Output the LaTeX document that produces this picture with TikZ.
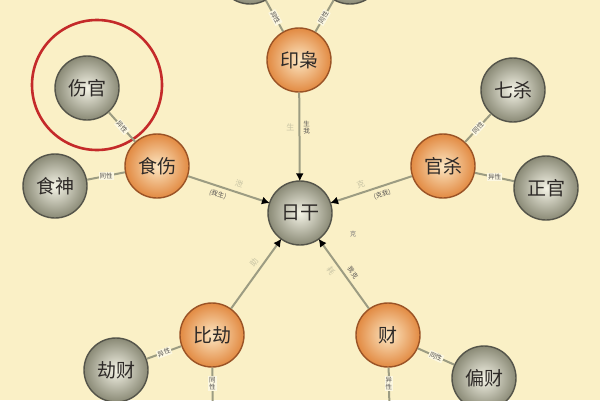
\documentclass[tikz,border=0pt]{standalone}
\usepackage{fontspec}
\newfontfamily\cjk{Noto Sans CJK SC}
\usetikzlibrary{arrows.meta}
\definecolor{bg}{HTML}{FAF0C6}
\definecolor{oin}{HTML}{FCE6C2}
\definecolor{oout}{HTML}{E28A42}
\definecolor{orim}{HTML}{9A5326}
\definecolor{gin}{HTML}{F4F3E6}
\definecolor{gout}{HTML}{8A8A76}
\definecolor{grim}{HTML}{54544A}
\definecolor{conn}{HTML}{9C9C82}
\definecolor{ink}{HTML}{2E2A28}
\definecolor{faint}{HTML}{C8C4A4}
\definecolor{ring}{HTML}{C42A2A}
\begin{document}
\begin{tikzpicture}[x=1pt,y=-1pt,
  ballbase/.style={circle, minimum size=64pt, inner sep=0pt, line width=1.4pt,
    font=\cjk\fontsize{19}{19}\selectfont, text=ink},
  oball/.style={ballbase, draw=orim, inner color=oin, outer color=oout},
  gball/.style={ballbase, draw=grim, inner color=gin, outer color=gout},
  link/.style={draw=conn, line width=2pt},
  arr/.style={link, -{Latex[length=8pt,width=8pt,black]}, shorten >=-1pt},
  lbl/.style={font=\cjk\fontsize{6.5}{7}\selectfont, text=ink!80, inner sep=1pt, fill=bg!50!white},
  flbl/.style={font=\cjk\fontsize{8}{8}\selectfont, text=faint, inner sep=1pt}]
\clip (0,0) rectangle (600,400);
\fill[bg] (0,0) rectangle (600,400);

% nodes
\node[gball] (rg) at (300,213) {日干};
\node[oball] (yx) at (299,60) {印枭};
\node[oball] (ss) at (157,166) {食伤};
\node[oball] (gs) at (443,166) {官杀};
\node[oball] (bj) at (212,335) {比劫};
\node[oball] (cai) at (388,335) {财};
\node[gball] (sg) at (87,88) {伤官};
\node[gball] (shs) at (55,186) {食神};
\node[gball] (qs) at (513,90) {七杀};
\node[gball] (zg) at (546,188) {正官};
\node[gball] (jc) at (116,370) {劫财};
\node[gball] (pc) at (484,378) {偏财};
\node[gball] (py) at (250,-28) {};
\node[gball] (zy) at (350,-28) {};
\node[gball] (bjn) at (213,436) {};
\node[gball] (zc) at (390,436) {};

% highlight ring
\node[draw=ring, line width=2.6pt, circle, minimum size=130pt, inner sep=0pt] (hl) at (97,85) {};

% outer links
\draw[link] (sg) -- node[lbl, sloped, pos=0.5] {异性} (ss);
\draw[link] (shs) -- node[lbl, pos=0.5] {同性} (ss);
\draw[link] (qs) -- node[lbl, sloped, pos=0.5] {同性} (gs);
\draw[link] (zg) -- node[lbl, pos=0.5] {异性} (gs);
\draw[link] (jc) -- node[lbl, sloped, pos=0.5] {异性} (bj);
\draw[link] (bj) -- node[lbl, align=center, pos=0.45] {同\\性} (bjn);
\draw[link] (pc) -- node[lbl, sloped, pos=0.5] {同性} (cai);
\draw[link] (cai) -- node[lbl, align=center, pos=0.45] {异\\性} (zc);
\draw[link] (yx) -- node[lbl, sloped, pos=0.45] {异性} (py);
\draw[link] (yx) -- node[lbl, sloped, pos=0.45] {同性} (zy);

% arrows to day master
\draw[arr] (yx) -- node[flbl, pos=0.4, left=3pt] {生}
  node[lbl, pos=0.4, right=2pt, align=center, fill=none] {生\\我} (rg);
\draw[arr] (ss) -- node[flbl, sloped, pos=0.6, above=3pt] {泄}
  node[lbl, sloped, pos=0.4, below=3pt, fill=none] {(我生)} (rg);
\draw[arr] (gs) -- node[flbl, sloped, pos=0.6, above=3pt] {克}
  node[lbl, sloped, pos=0.4, below=3pt, fill=none] {(克我)} (rg);
\draw[arr] (bj) -- node[flbl, sloped, pos=0.6, above=3pt] {助} (rg);
\draw[arr] (cai) -- node[flbl, sloped, pos=0.62, below=3pt] {耗}
  node[lbl, sloped, pos=0.45, above=3pt, fill=none] {我克} (rg);
\node[lbl, fill=none, text=ink!60] (ke) at (353,234) {克};
\end{tikzpicture}
\end{document}
